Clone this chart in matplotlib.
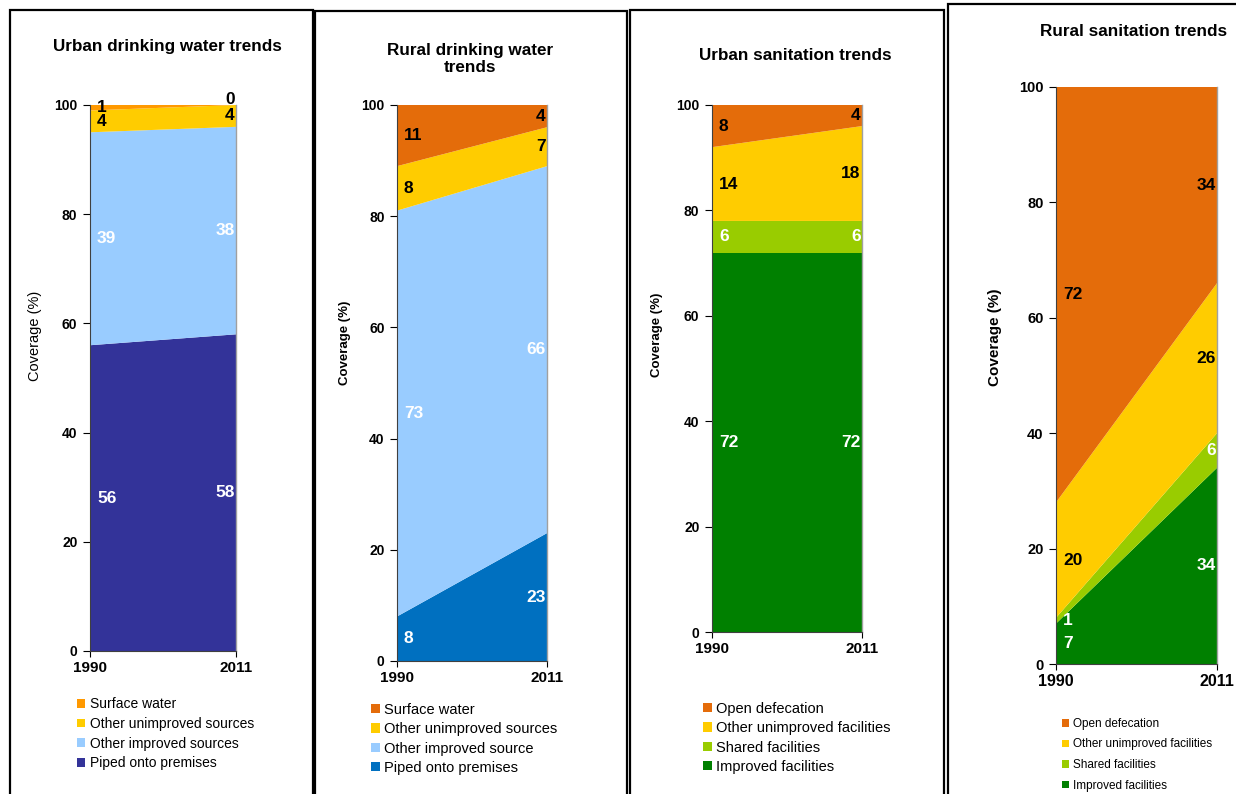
import matplotlib
matplotlib.use("Agg")
import matplotlib.pyplot as plt
from matplotlib.patches import Rectangle, Patch

plt.rcParams['font.family'] = ['Liberation Sans', 'DejaVu Sans']

W, H = 1236, 794
years = [1990, 2011]

# ---- data (bottom of stack first) ----
uw_labels = ["Piped onto premises", "Other improved sources", "Other unimproved sources", "Surface water"]
uw_1990 = [56, 39, 4, 1]
uw_2011 = [58, 38, 4, 0]

rw_labels = ["Piped onto premises", "Other improved source", "Other unimproved sources", "Surface water"]
rw_1990 = [8, 73, 8, 11]
rw_2011 = [23, 66, 7, 4]

us_labels = ["Improved facilities", "Shared facilities", "Other unimproved facilities", "Open defecation"]
us_1990 = [72, 6, 14, 8]
us_2011 = [72, 6, 18, 4]

rs_labels = ["Improved facilities", "Shared facilities", "Other unimproved facilities", "Open defecation"]
rs_1990 = [7, 1, 20, 72]
rs_2011 = [34, 6, 26, 34]

titles = ["Urban drinking water trends", "Rural drinking water\ntrends",
          "Urban sanitation trends", "Rural sanitation trends"]

# ---- styles ----
water_u_colors = ["#333399", "#99CCFF", "#FFCC00", "#FF9900"]
water_r_colors = ["#0070C0", "#99CCFF", "#FFCC00", "#E46C0A"]
san_colors = ["#008000", "#99CC00", "#FFCC00", "#E46C0A"]
dark_light_txt = ["white", "white", "black", "black"]

panels = [
    dict(data=(uw_1990, uw_2011), labels=uw_labels, colors=water_u_colors,
         ax=(90, 105, 236, 651), box=(10, 10, 313, 820), title_xy=(167, 47), title_ha="center",
         ylab_xy=(35, 336), ylab_bold=False, ylab_size=10.5, leg_xy=(77, 697), leg_size=10,
         leg_space=0.42, tick_size=10),
    dict(data=(rw_1990, rw_2011), labels=rw_labels, colors=water_r_colors,
         ax=(397, 105, 547, 661), box=(315, 11, 627, 820), title_xy=(470, 59), title_ha="center",
         ylab_xy=(345, 343), ylab_bold=True, ylab_size=9.5, leg_xy=(371, 703), leg_size=10.5,
         leg_space=0.36, tick_size=10),
    dict(data=(us_1990, us_2011), labels=us_labels, colors=san_colors,
         ax=(712, 105, 862, 632), box=(630, 10, 944, 820), title_xy=(795, 55), title_ha="center",
         ylab_xy=(657, 335), ylab_bold=True, ylab_size=9.5, leg_xy=(703, 702), leg_size=10.5,
         leg_space=0.36, tick_size=10),
    dict(data=(rs_1990, rs_2011), labels=rs_labels, colors=san_colors,
         ax=(1056, 87, 1217, 664), box=(948, 4, 1300, 820), title_xy=(1040, 32), title_ha="left",
         ylab_xy=(995, 337), ylab_bold=True, ylab_size=11, leg_xy=(1062, 718), leg_size=8.5,
         leg_space=0.72, tick_size=10.5),
]

fig = plt.figure(figsize=(W / 100, H / 100), dpi=100)
fig.patch.set_facecolor("white")

for i, p in enumerate(panels):
    bx0, by0, bx1, by1 = p["box"]
    fig.add_artist(Rectangle((bx0 / W, 1 - by1 / H), (bx1 - bx0) / W, (by1 - by0) / H,
                             transform=fig.transFigure, fill=False, edgecolor="black",
                             linewidth=1.6, zorder=0))
    x0, y0, x1, y1 = p["ax"]
    ax = fig.add_axes([x0 / W, 1 - y1 / H, (x1 - x0) / W, (y1 - y0) / H])
    v90, v11 = p["data"]
    series = [[a, b] for a, b in zip(v90, v11)]
    ax.stackplot(years, *series, colors=p["colors"], linewidth=0)
    ax.set_xlim(1990, 2011)
    ax.set_ylim(0, 100)
    ax.set_yticks([0, 20, 40, 60, 80, 100])
    ax.set_xticks(years)
    for lab in ax.get_yticklabels() + ax.get_xticklabels():
        lab.set_fontweight("bold")
    ax.tick_params(axis="y", labelsize=p["tick_size"], length=5, width=0.8, pad=4)
    ax.tick_params(axis="x", labelsize=p["tick_size"] + 1, length=4, width=0.8, pad=3)
    ax.spines["top"].set_visible(False)
    ax.spines["right"].set_color("#A0A0A0")
    ax.spines["right"].set_linewidth(1.0)
    ax.spines["left"].set_color("#404040")
    ax.spines["bottom"].set_color("#404040")

    # value labels at the middle of each band, at both ends; an empty band's
    # label sits just above its (zero-height) band
    cum90 = cum11 = 0
    for v_a, v_b, tc in zip(v90, v11, dark_light_txt):
        dy_a = 4 if v_a == 0 else 0
        dy_b = 4 if v_b == 0 else 0
        ax.annotate(str(v_a), (1990, cum90 + v_a / 2), xytext=(5, dy_a), textcoords="offset points",
                    ha="left", va="center", fontsize=12.5, fontweight="bold", color=tc)
        ax.annotate(str(v_b), (2011, cum11 + v_b / 2), xytext=(-1, dy_b), textcoords="offset points",
                    ha="right", va="center", fontsize=12.5, fontweight="bold", color=tc)
        cum90 += v_a
        cum11 += v_b

    tx, ty = p["title_xy"]
    fig.text(tx / W, 1 - ty / H, titles[i], ha=p["title_ha"], va="center", fontsize=12.3,
             fontweight="bold", linespacing=1.15)
    lx_, ly_ = p["ylab_xy"]
    fig.text(lx_ / W, 1 - ly_ / H, "Coverage (%)", rotation=90,
             ha="center", va="center", fontsize=p["ylab_size"],
             fontweight="bold" if p["ylab_bold"] else "normal")

    handles = [Patch(facecolor=c, edgecolor="none", label=l)
               for c, l in zip(p["colors"][::-1], p["labels"][::-1])]
    lx, ly = p["leg_xy"]
    ax.legend(handles=handles, loc="upper left", bbox_to_anchor=(lx / W, 1 - ly / H),
              bbox_transform=fig.transFigure, frameon=False, fontsize=p["leg_size"],
              handlelength=0.6, handleheight=0.6, handletextpad=0.3,
              labelspacing=p["leg_space"], borderpad=0, borderaxespad=0)

fig.savefig("out.png", dpi=100, facecolor="white")
